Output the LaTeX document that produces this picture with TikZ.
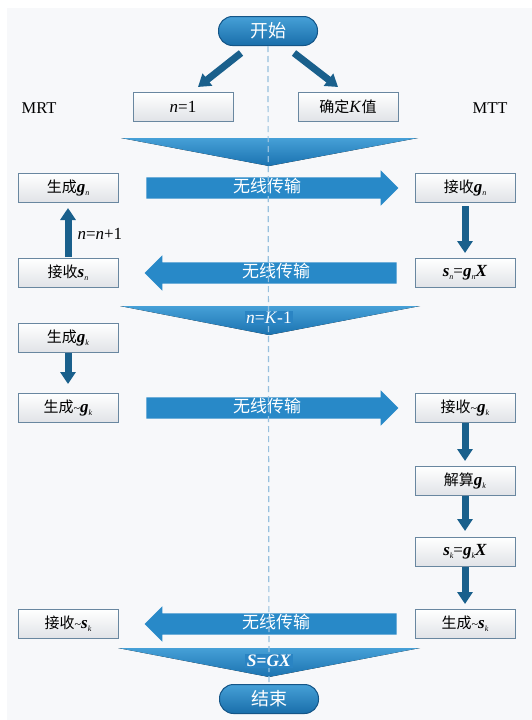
\documentclass[tikz,border=0pt]{standalone}
\usepackage{fontspec}
\setmainfont{Liberation Serif}
\newfontfamily\cjk{Noto Sans CJK SC}
\usetikzlibrary{positioning,arrows.meta,calc,shapes.arrows}

\definecolor{bgGray}{RGB}{247,248,250}
\definecolor{boxEdge}{RGB}{105,135,160}
\definecolor{boxBot}{RGB}{224,227,231}
\definecolor{pillTop}{RGB}{70,160,215}
\definecolor{pillBot}{RGB}{25,110,170}
\definecolor{pillEdge}{RGB}{20,85,135}
\definecolor{wireBlue}{RGB}{40,137,200}
\definecolor{triTop}{RGB}{70,160,215}
\definecolor{triBot}{RGB}{26,114,176}
\definecolor{triMid}{RGB}{42,132,195}
\definecolor{vBlue}{RGB}{26,96,140}
\definecolor{dashBlue}{RGB}{150,192,222}

\newcommand{\zh}[1]{{\cjk\fontsize{15}{17}\selectfont #1}}
\newcommand{\bv}[2]{{\bfseries\itshape #1}\raisebox{-0.35ex}{\fontsize{8}{8}\selectfont\itshape #2}}
\newcommand{\tld}{{\fontsize{12}{12}\selectfont\textasciitilde}}

\begin{document}
\begin{tikzpicture}[
  x=1pt, y=-1pt,
  stepbox/.style={draw=boxEdge, line width=1pt, top color=white, bottom color=boxBot,
                  minimum width=100pt, minimum height=29pt, inner sep=0pt,
                  font=\fontsize{17}{19}\selectfont},
  terminal/.style={draw=pillEdge, line width=1pt, rounded corners=14pt,
                   top color=pillTop, bottom color=pillBot, minimum width=99pt,
                   minimum height=29pt, text=white, font=\fontsize{18}{20}\selectfont\cjk},
  wire/.style={single arrow, fill=wireBlue, minimum height=252pt,
               single arrow head extend=7pt, inner xsep=0pt, inner ysep=3pt,
               text height=12pt, text depth=3pt, text=white,
               font=\fontsize{17}{19}\selectfont\cjk},
  wireleft/.style={wire, shape border rotate=180},
  vflow/.style={draw=vBlue, line width=7pt, -{Triangle[width=15pt,length=12pt]}},
  side/.style={font=\fontsize{16.5}{18}\selectfont},
  tri/.style={top color=triTop, bottom color=triBot},
  trilabel/.style={fill=triMid, text=white, inner sep=1.5pt,
                   font=\fontsize{17.5}{19}\selectfont},
  mid/.style={draw=dashBlue, line width=1.2pt, dash pattern=on 6pt off 4pt}
]
\useasboundingbox (0,0) rectangle (532,720);
\fill[bgGray] (7,8) rectangle (532,720);

% start and set-up
\node[terminal] (start) at (268,31) {开始};
\node[stepbox] (nOne) at (183,107) {\textit{n}=1};
\node[stepbox] (detK) at (348,107) {\zh{确定}\textit{K}\zh{值}};
\node[side] (mrt) at (39,108) {MRT};
\node[side] (mtt) at (490,108) {MTT};
\draw[vflow] ($(start.south)+(-27,7)$) -- ($(nOne.north)+(15,-5)$);
\draw[vflow] ($(start.south)+(26,7)$) -- ($(detK.north)+(-10,-5)$);

% first chevron
\coordinate (triAl) at (121,138);
\coordinate (triAr) at (418,138);
\coordinate (triAt) at (269,166);
\fill[tri] (triAl) -- (triAr) -- (triAt) -- cycle;

% loop over n
\node[stepbox] (genGn)  at (68,188)  {\zh{生成}\bv{g}{n}};
\node[stepbox] (recvGn) at (465,188) {\zh{接收}\bv{g}{n}};
\node[stepbox] (recvSn) at (68,273)  {\zh{接收}\bv{s}{n}};
\node[stepbox] (calcSn) at (465,273) {\bv{s}{n}=\bv{g}{n}\textbf{\textit{X}}};
\path (genGn.east) -- node[wire, xshift=0.5pt] (wireA) {无线传输} (recvGn.west);
\path (calcSn.west) -- node[wireleft, xshift=9.5pt] (wireB) {无线传输} (recvSn.east);
\draw[vflow, shorten <=3pt, shorten >=5pt] (recvGn.south) -- (calcSn.north);
\draw[vflow, shorten <=1pt, shorten >=5pt] (recvSn.north) -- (genGn.south);
\node[font=\fontsize{17}{19}\selectfont, anchor=west] (incN) at (74,234) {\textit{n}=\textit{n}+1};

% second chevron
\coordinate (triBl) at (120,306);
\coordinate (triBr) at (420,306);
\coordinate (triBt) at (269,335);
\fill[tri] (triBl) -- (triBr) -- (triBt) -- cycle;

% final round k
\node[stepbox] (genGk)   at (68,338)  {\zh{生成}\bv{g}{k}};
\node[stepbox] (genTGk)  at (68,408)  {\zh{生成}\tld\bv{g}{k}};
\node[stepbox] (recvTGk) at (465,408) {\zh{接收}\tld\bv{g}{k}};
\node[stepbox] (solveGk) at (465,481) {\zh{解算}\bv{g}{k}};
\node[stepbox] (calcSk)  at (465,552) {\bv{s}{k}=\bv{g}{k}\textbf{\textit{X}}};
\node[stepbox] (genTSk)  at (465,624) {\zh{生成}\tld\bv{s}{k}};
\node[stepbox] (recvTSk) at (68,624)  {\zh{接收}\tld\bv{s}{k}};
\path (genTGk.east) -- node[wire, xshift=0.5pt] (wireC) {无线传输} (recvTGk.west);
\path (genTSk.west) -- node[wireleft, xshift=9.5pt] (wireD) {无线传输} (recvTSk.east);
\draw[vflow, shorten >=9pt] (genGk.south) -- (genTGk.north);
\draw[vflow, shorten >=5pt] (recvTGk.south) -- (solveGk.north);
\draw[vflow, shorten >=6pt] (solveGk.south) -- (calcSk.north);
\draw[vflow, shorten >=5pt] (calcSk.south) -- (genTSk.north);

% last chevron and end
\coordinate (triCl) at (118,648);
\coordinate (triCr) at (420,648);
\coordinate (triCt) at (269,677);
\fill[tri] (triCl) -- (triCr) -- (triCt) -- cycle;
\node[terminal] (finish) at (269,699) {结束};

% centre line between MRT and MTT
\draw[mid] (start.south) -- (finish.north);
\node[trilabel] (loopEnd) at (269,318) {\textit{n}=\textit{K}-1};
\node[trilabel] (result) at (269,661) {\textbf{\textit{S}=\textit{GX}}};
\end{tikzpicture}
\end{document}
